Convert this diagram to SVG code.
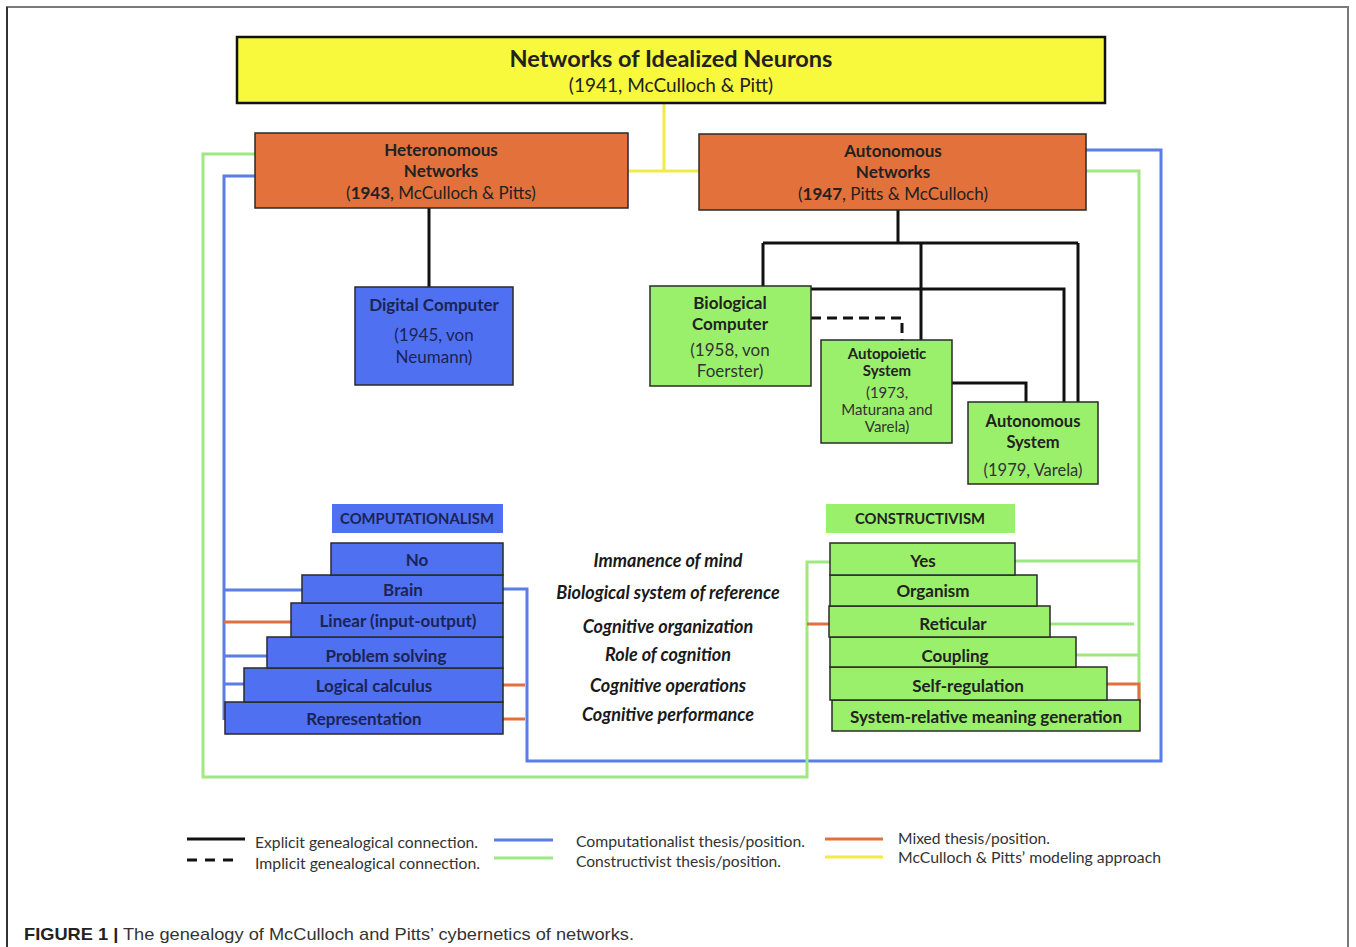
<svg xmlns="http://www.w3.org/2000/svg" width="1356" height="947" viewBox="0 0 1356 947">
<defs>
<style>
.t{font-family:Lato,"Liberation Sans",sans-serif;fill:#222;text-anchor:middle}
.b{font-weight:bold}
.box{stroke:#2a2a2a;stroke-width:1.5}
.or{fill:#e2713b}
.bl{fill:#4f70f0}
.gr{fill:#9af06a}
.ln{fill:none;stroke-width:3}
.lb{stroke:#5a7de6}
.lg{stroke:#9fe882}
.lo{stroke:#e0703e}
.ly{stroke:#f2ea4a}
.lk{stroke:#111}
.mid{font-family:Lato,"Liberation Sans",sans-serif;font-weight:bold;font-style:italic;font-size:18px;fill:#1a1a1a;text-anchor:middle}
.leg{font-family:Lato,"Liberation Sans",sans-serif;font-size:16px;fill:#333}
.nv{fill:#1b2454}
.dk{fill:#333}
</style>
</defs>
<rect width="1356" height="947" fill="#fff"/>
<!-- frame -->
<path d="M7,947 V7 H1348 V947" fill="none" stroke="#7a7a7a" stroke-width="2"/>
<line x1="7" y1="7" x2="7" y2="947" stroke="#333" stroke-width="2"/>

<g id="connectors">
  <path class="ln ly" d="M664,103 V171 M628,171 H699"/>
  <path class="ln lb" d="M255,176 H224 V720 M224,590 H302 M224,656 H267 M224,684 H244"/>
  <path class="ln lb" d="M503,589 H527 V761 H1161 V150 H1086"/>
  <path class="ln lg" d="M255,154 H203 V777 H807 V562 H830"/>
  <path class="ln lg" d="M1086,171 H1139 V700 M1015,561 H1139 M1050,624 H1134 M1076,655 H1139"/>
  <path class="ln lo" d="M224,622 H291 M503,685 H525 M503,719 H525 M807,624 H829 M1107,684 H1139 V703"/>
  <path class="ln lk" d="M429,208 V287 M898,210 V243 M763,243 H1078 M763,243 V286 M921,243 V340 M1078,243 V402 M811,289 H1064 V402 M952,383 H1026 V402"/>
  <path class="ln lk" stroke-dasharray="10,6" d="M811,318 H902 V340"/>
</g>

<g id="n-networks">
  <rect x="237" y="37" width="868" height="66" fill="#f8f83c" stroke="#111" stroke-width="2.5"/>
  <text class="t b" x="671" y="67" font-size="23.5">Networks of Idealized Neurons</text>
  <text class="t" x="671" y="92" font-size="19">(1941, McCulloch &amp; Pitt)</text>
</g>

<g id="n-hetero">
  <rect class="box or" x="255" y="133" width="373" height="75"/>
  <text class="t b" x="441" y="156" font-size="17">Heteronomous</text>
  <text class="t b" x="441" y="177" font-size="17">Networks</text>
  <text class="t" x="441" y="199" font-size="17">(<tspan font-weight="bold">1943</tspan>, McCulloch &amp; Pitts)</text>
</g>

<g id="n-auto">
  <rect class="box or" x="699" y="134" width="387" height="76"/>
  <text class="t b" x="893" y="157" font-size="17">Autonomous</text>
  <text class="t b" x="893" y="178" font-size="17">Networks</text>
  <text class="t" x="893" y="200" font-size="17">(<tspan font-weight="bold">1947</tspan>, Pitts &amp; McCulloch)</text>
</g>

<g id="n-digital">
  <rect class="box bl" x="355" y="287" width="158" height="98"/>
  <text class="t b nv" x="434" y="311" font-size="17">Digital Computer</text>
  <text class="t nv" x="434" y="341" font-size="17">(1945, von</text>
  <text class="t nv" x="434" y="363" font-size="17">Neumann)</text>
</g>

<g id="n-bio">
  <rect class="box gr" x="650" y="286" width="161" height="100"/>
  <text class="t b" x="730" y="309" font-size="17">Biological</text>
  <text class="t b" x="730" y="330" font-size="17">Computer</text>
  <text class="t dk" x="730" y="356" font-size="17">(1958, von</text>
  <text class="t dk" x="730" y="377" font-size="17">Foerster)</text>
</g>

<g id="n-autopoietic">
  <rect class="box gr" x="821" y="340" width="131" height="103"/>
  <text class="t b" x="887" y="359" font-size="15">Autopoietic</text>
  <text class="t b" x="887" y="376" font-size="15">System</text>
  <text class="t dk" x="887" y="398" font-size="15">(1973,</text>
  <text class="t dk" x="887" y="415" font-size="15">Maturana and</text>
  <text class="t dk" x="887" y="432" font-size="15">Varela)</text>
</g>

<g id="n-autosys">
  <rect class="box gr" x="968" y="402" width="130" height="82"/>
  <text class="t b" x="1033" y="427" font-size="16.5">Autonomous</text>
  <text class="t b" x="1033" y="448" font-size="16.5">System</text>
  <text class="t dk" x="1033" y="476" font-size="16.5">(1979, Varela)</text>
</g>

<g id="n-computationalism">
  <rect class="bl" x="332" y="504" width="171" height="29"/>
  <text class="t b nv" x="417" y="524" font-size="14.8">COMPUTATIONALISM</text>
  <rect class="box bl" x="225" y="702" width="278" height="32"/>
  <text class="t b nv" x="364" y="725" font-size="17">Representation</text>
  <rect class="box bl" x="244" y="668" width="259" height="34"/>
  <text class="t b nv" x="374" y="692" font-size="17">Logical calculus</text>
  <rect class="box bl" x="267" y="637" width="236" height="31"/>
  <text class="t b nv" x="386" y="662" font-size="17">Problem solving</text>
  <rect class="box bl" x="291" y="603" width="212" height="34"/>
  <text class="t b nv" x="398" y="627" font-size="17">Linear (input-output)</text>
  <rect class="box bl" x="302" y="575" width="201" height="28"/>
  <text class="t b nv" x="403" y="596" font-size="17">Brain</text>
  <rect class="box bl" x="331" y="543" width="172" height="32"/>
  <text class="t b nv" x="417" y="566" font-size="17">No</text>
</g>

<g id="n-constructivism">
  <rect class="gr" x="826" y="504" width="189" height="29"/>
  <text class="t b" x="920" y="524" font-size="14.8">CONSTRUCTIVISM</text>
  <rect class="box gr" x="832" y="700" width="308" height="31"/>
  <text class="t b" x="986" y="723" font-size="17">System-relative meaning generation</text>
  <rect class="box gr" x="830" y="667" width="277" height="33"/>
  <text class="t b" x="968" y="692" font-size="17">Self-regulation</text>
  <rect class="box gr" x="830" y="637" width="246" height="30"/>
  <text class="t b" x="955" y="662" font-size="17">Coupling</text>
  <rect class="box gr" x="829" y="606" width="221" height="31"/>
  <text class="t b" x="953" y="630" font-size="17">Reticular</text>
  <rect class="box gr" x="830" y="575" width="207" height="31"/>
  <text class="t b" x="933" y="597" font-size="17">Organism</text>
  <rect class="box gr" x="830" y="543" width="185" height="32"/>
  <text class="t b" x="923" y="567" font-size="17">Yes</text>
</g>

<g id="criteria">
  <text class="mid" x="668" y="567">Immanence of mind</text>
  <text class="mid" x="668" y="599">Biological system of reference</text>
  <text class="mid" x="668" y="633">Cognitive organization</text>
  <text class="mid" x="668" y="661">Role of cognition</text>
  <text class="mid" x="668" y="692">Cognitive operations</text>
  <text class="mid" x="668" y="721">Cognitive performance</text>
</g>

<g id="legend">
  <line x1="187" y1="839" x2="245" y2="839" stroke="#111" stroke-width="3"/>
  <line x1="187" y1="860" x2="240" y2="860" stroke="#111" stroke-width="3" stroke-dasharray="10,8"/>
  <text class="leg" x="255" y="848" textLength="223" lengthAdjust="spacingAndGlyphs">Explicit genealogical connection.</text>
  <text class="leg" x="255" y="869" textLength="225" lengthAdjust="spacingAndGlyphs">Implicit genealogical connection.</text>
  <line x1="494" y1="840" x2="553" y2="840" stroke="#5a7de6" stroke-width="3"/>
  <line x1="494" y1="858" x2="553" y2="858" stroke="#9fe882" stroke-width="3"/>
  <text class="leg" x="576" y="847" textLength="229" lengthAdjust="spacingAndGlyphs">Computationalist thesis/position.</text>
  <text class="leg" x="576" y="867" textLength="205" lengthAdjust="spacingAndGlyphs">Constructivist thesis/position.</text>
  <line x1="825" y1="839" x2="883" y2="839" stroke="#e0703e" stroke-width="3"/>
  <line x1="825" y1="857" x2="883" y2="857" stroke="#f2ea4a" stroke-width="3"/>
  <text class="leg" x="898" y="844" textLength="152" lengthAdjust="spacingAndGlyphs">Mixed thesis/position.</text>
  <text class="leg" x="898" y="863" textLength="263" lengthAdjust="spacingAndGlyphs">McCulloch &amp; Pitts’ modeling approach</text>
</g>

<text x="24" y="940" font-family="'Liberation Sans',Arial,sans-serif" font-size="17" fill="#333" textLength="610" lengthAdjust="spacingAndGlyphs"><tspan font-weight="bold" fill="#222">FIGURE 1 |</tspan> The genealogy of McCulloch and Pitts’ cybernetics of networks.</text>
</svg>
